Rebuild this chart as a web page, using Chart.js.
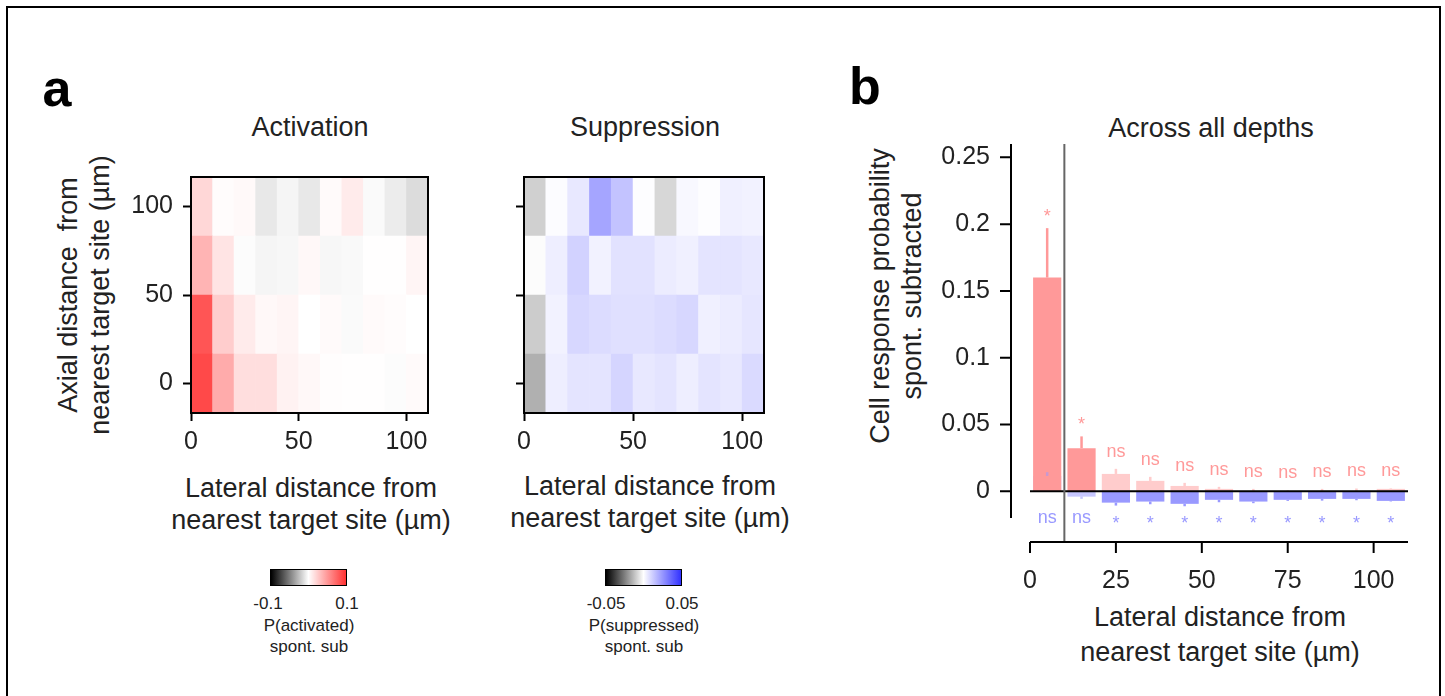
<!DOCTYPE html>
<html>
<head>
<meta charset="utf-8">
<script src="https://cdn.jsdelivr.net/npm/chart.js@4.4.1/dist/chart.umd.min.js"></script>
<style>
body { margin: 0; background: #fff; font-family: "Liberation Sans", Arial, sans-serif; color: #222; }
#page { position: relative; width: 1445px; height: 696px; overflow: hidden; }
.frame { position: absolute; left: 6px; top: 6px; width: 1431px; height: 720px; border: 2px solid #000; }
canvas { position: absolute; }
.t { position: absolute; white-space: pre; transform: translate(-50%, -50%); font-size: 27px; line-height: 1; }
.rot { transform: translate(-50%, -50%) rotate(-90deg); }
.small { font-size: 17px; }
.letter { font-weight: bold; font-size: 52px; color: #000; }
.cb { position: absolute; top: 569px; width: 75px; height: 15px; border: 1px solid #000; }
</style>
</head>
<body>
<div id="page">
  <div class="frame"></div>

  <div class="t letter" style="left:57px;top:88px">a</div>
  <div class="t letter" style="left:865px;top:86px">b</div>

  <div class="t" style="left:310px;top:127px">Activation</div>
  <div class="t" style="left:645px;top:127px">Suppression</div>
  <div class="t" style="left:1211px;top:128px">Across all depths</div>

  <div class="t rot" style="left:68px;top:295px">Axial distance  from</div>
  <div class="t rot" style="left:100px;top:295px">nearest target site (µm)</div>
  <div class="t" style="left:311px;top:488px">Lateral distance from</div>
  <div class="t" style="left:311px;top:520px">nearest target site (µm)</div>
  <div class="t" style="left:650px;top:486px">Lateral distance from</div>
  <div class="t" style="left:650px;top:518px">nearest target site (µm)</div>

  <div class="t rot" style="left:880px;top:296px">Cell response probability</div>
  <div class="t rot" style="left:912px;top:296px">spont. subtracted</div>
  <div class="t" style="left:1220px;top:617px">Lateral distance from</div>
  <div class="t" style="left:1220px;top:652px">nearest target site (µm)</div>

  <div class="cb" style="left:270px;background:linear-gradient(to right,#000,#fff 50%,rgb(255,50,50))"></div>
  <div class="t small" style="left:268px;top:603px">-0.1</div>
  <div class="t small" style="left:347px;top:603px">0.1</div>
  <div class="t small" style="left:309px;top:625px">P(activated)</div>
  <div class="t small" style="left:309px;top:646px">spont. sub</div>

  <div class="cb" style="left:605px;background:linear-gradient(to right,#000,#fff 50%,rgb(50,50,255))"></div>
  <div class="t small" style="left:606px;top:603px">-0.05</div>
  <div class="t small" style="left:682px;top:603px">0.05</div>
  <div class="t small" style="left:644px;top:625px">P(suppressed)</div>
  <div class="t small" style="left:644px;top:646px">spont. sub</div>

  <canvas id="act" width="340" height="320" style="left:100px;top:150px"></canvas>
  <canvas id="sup" width="340" height="320" style="left:440px;top:150px"></canvas>
  <canvas id="bars" width="550" height="520" style="left:880px;top:100px"></canvas>
</div>

<script>
// lateral bins (µm, bin centres) and axial rows (µm, row centres)
const xBins = [5, 15, 25, 35, 45, 55, 65, 75, 85, 95, 105];
const depthRows = [0, 100 / 3, 200 / 3, 100];
const binWidth = 10;
const targetEdge = 10;

// heatmaps, rows listed from depth 0 up to depth 100
const activation = [
  [0.089, 0.041, 0.016, 0.016, 0.0063, 0.0034, 0.001, 0.0003, 0.0003, -0.001, 0.0024],
  [0.083, 0.0244, 0.0098, 0.0034, 0.0049, 0.0002, 0.0024, -0.002, 0.0024, 0.0015, 0.0002],
  [0.0366, 0.0132, -0.001, -0.004, -0.003, 0.0034, -0.003, -0.0024, 0.0003, 0.0003, 0.005],
  [0.0195, 0.0015, 0.003, -0.009, -0.004, -0.009, 0.0025, 0.010, -0.002, -0.0075, -0.0137]
];
const suppression = [
  [-0.0155, 0.0041, 0.0066, 0.0066, 0.0102, 0.0056, 0.0066, 0.0041, 0.0066, 0.0056, 0.009],
  [-0.01, 0.0032, 0.0098, 0.0085, 0.0076, 0.0076, 0.0085, 0.0098, 0.0037, 0.0046, 0.0061],
  [-0.0006, 0.0041, 0.011, 0.0032, 0.0071, 0.0071, 0.0046, 0.0037, 0.0066, 0.0066, 0.0056],
  [-0.0092, 0.0007, 0.0056, 0.022, 0.0146, 0.0005, -0.0078, 0.0017, 0.0005, 0.0037, 0.0032]
];
const actLim = 0.1;
const supLim = 0.05;

// bar chart (all depths)
const actProb = [0.16, 0.0323, 0.013, 0.0078, 0.004, 0.0018, 0.0003, 0.0002, 0.0003, 0.0003, 0.0018];
const actErr  = [0.037, 0.0088, 0.0038, 0.003, 0.0023, 0.0015, 0.0015, 0.0005, 0.0015, 0.0018, 0.0004];
const actSig  = [1, 1, 0, 0, 0, 0, 0, 0, 0, 0, 0];
const supProb = [0.0115, -0.004, -0.0085, -0.0077, -0.0094, -0.0064, -0.0077, -0.0064, -0.0057, -0.0057, -0.0072];
const supErr  = [0.0028, 0.0017, 0.0022, 0.002, 0.0018, 0.0018, 0.0012, 0.0008, 0.0013, 0.001, 0.0004];
const supSig  = [0, 0, 1, 1, 1, 1, 1, 1, 1, 1, 1];

const heatTicks = [0, 50, 100];
const barXTicks = [0, 25, 50, 75, 100];
const barYTicks = [0, 0.05, 0.1, 0.15, 0.2, 0.25];

const FONT = '"Liberation Sans", Arial, sans-serif';
const INK = '#222';

function cmap(v, lim, hot) {
  const t = Math.max(-1, Math.min(1, v / lim));
  if (t < 0) {
    const g = Math.round(255 * (1 + t));
    return `rgb(${g},${g},${g})`;
  }
  const c = hot.map(h => Math.round(255 + (h - 255) * t));
  return `rgb(${c.join(',')})`;
}

// pin the plot box: scale sizes fixed, no label overflow padding
function fixX(h) {
  return s => { s.height = h; s.paddingLeft = 0; s.paddingRight = 0; };
}
function fixY(w) {
  return s => { s.width = w; s.paddingTop = 0; s.paddingBottom = 0; };
}

const boxPlugin = {
  id: 'box',
  afterDraw(chart) {
    const { ctx, chartArea: a } = chart;
    ctx.save();
    ctx.strokeStyle = '#000';
    ctx.lineWidth = 2;
    ctx.strokeRect(a.left, a.top, a.right - a.left, a.bottom - a.top);
    ctx.restore();
  }
};

function heatmap(id, vals, lim, hot, showY, yWidth, padRight) {
  const rowH = depthRows[1] - depthRows[0];
  const yMin = depthRows[0] - rowH / 2;
  const yMax = depthRows[depthRows.length - 1] + rowH / 2;
  const datasets = depthRows.map((d, r) => ({
    type: 'bar',
    data: xBins.map(x => ({ x: x, y: [d - rowH / 2, d + rowH / 2] })),
    backgroundColor: vals[r].map(v => cmap(v, lim, hot)),
    borderWidth: 0,
    barPercentage: 1,
    categoryPercentage: 1,
    grouped: false
  }));
  datasets.push({
    type: 'line',
    data: [{ x: targetEdge, y: yMin }, { x: targetEdge, y: yMax }],
    borderColor: '#999',
    borderWidth: 2,
    pointRadius: 0
  });

  const tickFont = { family: FONT, size: 25 };
  return new Chart(document.getElementById(id), {
    type: 'bar',
    data: { datasets },
    options: {
      responsive: false,
      animation: false,
      devicePixelRatio: 1,
      layout: { padding: { top: 27, right: padRight, left: 0, bottom: 0 } },
      plugins: { legend: { display: false }, tooltip: { enabled: false } },
      scales: {
        x: {
          type: 'linear', min: xBins[0] - binWidth / 2, max: xBins[xBins.length - 1] + binWidth / 2,
          offset: false,
          afterBuildTicks: s => { s.ticks = heatTicks.map(value => ({ value })); },
          afterFit: fixX(57),
          grid: { offset: false, drawOnChartArea: false, color: '#000', tickLength: 8, tickWidth: 2 },
          border: { color: '#000', width: 2 },
          ticks: { font: tickFont, color: INK, padding: 6, maxRotation: 0 }
        },
        y: {
          type: 'linear', min: yMin, max: yMax,
          afterBuildTicks: s => { s.ticks = heatTicks.map(value => ({ value })); },
          afterFit: fixY(yWidth),
          grid: { drawOnChartArea: false, color: '#000', tickLength: 8, tickWidth: 2 },
          border: { color: '#000', width: 2 },
          ticks: { display: showY, font: tickFont, color: INK, padding: 10 }
        }
      }
    },
    plugins: [boxPlugin]
  });
}

heatmap('act', activation, actLim, [255, 50, 50], true, 91, 12);
heatmap('sup', suppression, supLim, [50, 50, 255], false, 84, 16);

// bar chart
const RED = 'rgb(255,153,153)';
const BLUE = 'rgb(153,153,255)';
const actColors = actSig.map(s => s ? 'rgba(255,153,153,1)' : 'rgba(255,153,153,0.5)');
const supColors = supSig.map(s => s ? 'rgba(153,153,255,1)' : 'rgba(153,153,255,0.55)');

const spineOffX = 19;
const spineOffY = 24;
const tickLen = 11;

const barDecor = {
  id: 'barDecor',
  afterDatasetsDraw(chart) {
    const { ctx, chartArea: a, scales: { x, y } } = chart;
    ctx.save();
    // error bars, drawn away from zero
    [[actProb, actErr, actColors], [supProb, supErr, supColors]].forEach(([vals, errs, cols]) => {
      vals.forEach((v, i) => {
        const px = x.getPixelForValue(xBins[i]);
        const sgn = v >= 0 ? 1 : -1;
        ctx.strokeStyle = cols[i];
        ctx.lineWidth = 2.5;
        ctx.beginPath();
        ctx.moveTo(px, y.getPixelForValue(v));
        ctx.lineTo(px, y.getPixelForValue(v + sgn * errs[i]));
        ctx.stroke();
      });
    });
    // zero line
    const y0 = y.getPixelForValue(0);
    ctx.strokeStyle = '#000';
    ctx.lineWidth = 2;
    ctx.beginPath();
    ctx.moveTo(a.left, y0);
    ctx.lineTo(a.right, y0);
    ctx.stroke();
    ctx.restore();
  },
  afterDraw(chart) {
    const { ctx, chartArea: a, scales: { x, y } } = chart;
    ctx.save();
    // target site boundary
    const xe = x.getPixelForValue(targetEdge);
    ctx.strokeStyle = '#666';
    ctx.lineWidth = 2;
    ctx.beginPath();
    ctx.moveTo(xe, a.top);
    ctx.lineTo(xe, a.bottom + spineOffY);
    ctx.stroke();

    // offset spines
    ctx.strokeStyle = '#000';
    ctx.lineWidth = 2;
    const sx = a.left - spineOffX;
    ctx.beginPath();
    ctx.moveTo(sx, a.top);
    ctx.lineTo(sx, a.bottom);
    barYTicks.forEach(v => {
      const py = y.getPixelForValue(v);
      ctx.moveTo(sx - tickLen, py);
      ctx.lineTo(sx, py);
    });
    const sy = a.bottom + spineOffY;
    ctx.moveTo(a.left, sy);
    ctx.lineTo(a.right, sy);
    barXTicks.forEach(v => {
      const px = x.getPixelForValue(v);
      ctx.moveTo(px, sy);
      ctx.lineTo(px, sy + tickLen);
    });
    ctx.stroke();

    // significance labels
    ctx.font = '18px ' + FONT;
    ctx.textAlign = 'center';
    ctx.textBaseline = 'middle';
    xBins.forEach((b, i) => {
      const px = x.getPixelForValue(b);
      ctx.fillStyle = RED;
      const ty = y.getPixelForValue(actProb[i] + actErr[i]) - 17;
      if (actSig[i]) ctx.fillText('*', px, ty + 6);
      else ctx.fillText('ns', px, ty);
      ctx.fillStyle = BLUE;
      if (supSig[i]) ctx.fillText('*', px, a.bottom + 6);
      else ctx.fillText('ns', px, a.bottom);
    });
    ctx.restore();
  }
};

const barTickFont = { family: FONT, size: 25 };
new Chart(document.getElementById('bars'), {
  type: 'bar',
  data: {
    datasets: [
      {
        data: xBins.map((b, i) => ({ x: b, y: actProb[i] })),
        backgroundColor: actColors,
        barPercentage: 0.82,
        categoryPercentage: 1,
        grouped: false
      },
      {
        data: xBins.map((b, i) => ({ x: b, y: supProb[i] })),
        backgroundColor: supColors,
        barPercentage: 0.82,
        categoryPercentage: 1,
        grouped: false
      }
    ]
  },
  options: {
    responsive: false,
    animation: false,
    devicePixelRatio: 1,
    layout: { padding: { top: 44, right: 22, left: 0, bottom: 0 } },
    plugins: { legend: { display: false }, tooltip: { enabled: false } },
    scales: {
      x: {
        type: 'linear', min: 0, max: 110, offset: false,
        afterBuildTicks: s => { s.ticks = barXTicks.map(value => ({ value })); },
        afterFit: fixX(102),
        grid: { display: false, offset: false },
        border: { display: false },
        ticks: { font: barTickFont, color: INK, padding: 40, maxRotation: 0 }
      },
      y: {
        type: 'linear', min: -0.02, max: 0.26,
        afterBuildTicks: s => { s.ticks = barYTicks.map(value => ({ value })); },
        afterFit: fixY(150),
        grid: { display: false },
        border: { display: false },
        ticks: { font: barTickFont, color: INK, padding: 32, callback: v => String(v) }
      }
    }
  },
  plugins: [barDecor]
});
</script>
</body>
</html>
